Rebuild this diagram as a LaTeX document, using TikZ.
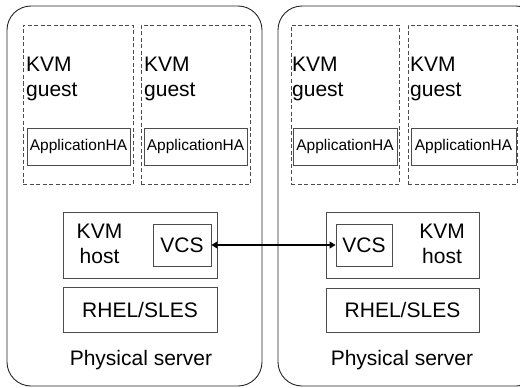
\documentclass[tikz,border=0pt]{standalone}
\usepackage{fontspec}
\setmainfont{Liberation Sans}
\usetikzlibrary{arrows.meta, positioning}

\begin{document}
\begin{tikzpicture}[x=1pt, y=-1pt,
    box/.style={draw=black!70, line width=0.9pt, inner sep=0pt},
    server/.style={draw=black!85, line width=0.9pt, rounded corners=24pt},
    guest/.style={draw=black!70, line width=0.9pt, dash pattern=on 4pt off 2.5pt},
    big/.style={font=\fontsize{21}{25}\selectfont},
    small/.style={font=\fontsize{15.5}{18}\selectfont}]
    \clip (0,0) rectangle (520,388);

    % physical servers
    \node[server, minimum width=255pt, minimum height=380pt] (s1) at (134.5,196) {};
    \node[server, minimum width=262pt, minimum height=380pt] (s2) at (409,196) {};

    % guests
    \node[guest, minimum width=110pt, minimum height=159pt] (g1) at (78,104.5) {};
    \node[guest, minimum width=109pt, minimum height=159pt] (g2) at (195.5,104.5) {};
    \node[guest, minimum width=108pt, minimum height=159pt] (g3) at (345,104.5) {};
    \node[guest, minimum width=109pt, minimum height=159pt] (g4) at (462.5,104.5) {};
    \node[big, align=left, anchor=base west, inner sep=0pt] (g1t) at (26,96) {KVM\\guest};
    \node[big, align=left, anchor=base west, inner sep=0pt] (g2t) at (144,96) {KVM\\guest};
    \node[big, align=left, anchor=base west, inner sep=0pt] (g3t) at (292,96) {KVM\\guest};
    \node[big, align=left, anchor=base west, inner sep=0pt] (g4t) at (410,96) {KVM\\guest};

    \node[box, small, minimum width=103pt, minimum height=37pt] (a1) at (78.5,146.5) {ApplicationHA};
    \node[box, small, minimum width=103pt, minimum height=37pt] (a2) at (195.5,146.5) {ApplicationHA};
    \node[box, small, minimum width=104pt, minimum height=37pt] (a3) at (345,146.5) {ApplicationHA};
    \node[box, small, minimum width=105pt, minimum height=37pt] (a4) at (463.5,146.5) {ApplicationHA};

    % hosts
    \node[box, minimum width=154pt, minimum height=66pt] (h1) at (140,245) {};
    \node[box, minimum width=153pt, minimum height=66pt] (h2) at (402.5,245) {};
    \node[big, align=center, anchor=base, inner sep=0pt] (h1t) at (99.5,263) {KVM\\host};
    \node[big, align=center, anchor=base, inner sep=0pt] (h2t) at (442,263) {KVM\\host};
    \node[box, big, minimum width=58pt, minimum height=42pt] (v1) at (182,245) {VCS};
    \node[box, big, minimum width=56pt, minimum height=42pt] (v2) at (364,245) {VCS};

    \node[box, big, minimum width=154pt, minimum height=45pt] (r1) at (140,309.5) {RHEL/SLES};
    \node[box, big, minimum width=153pt, minimum height=44pt] (r2) at (402.5,310) {RHEL/SLES};

    \node[big, anchor=base] (p1) at (141,365) {Physical server};
    \node[big, anchor=base] (p2) at (402,365) {Physical server};

    \draw[line width=1.2pt, {Triangle[length=6pt,width=7pt]}-{Triangle[length=6pt,width=7pt]}] (v1) -- (v2);
\end{tikzpicture}
\end{document}
